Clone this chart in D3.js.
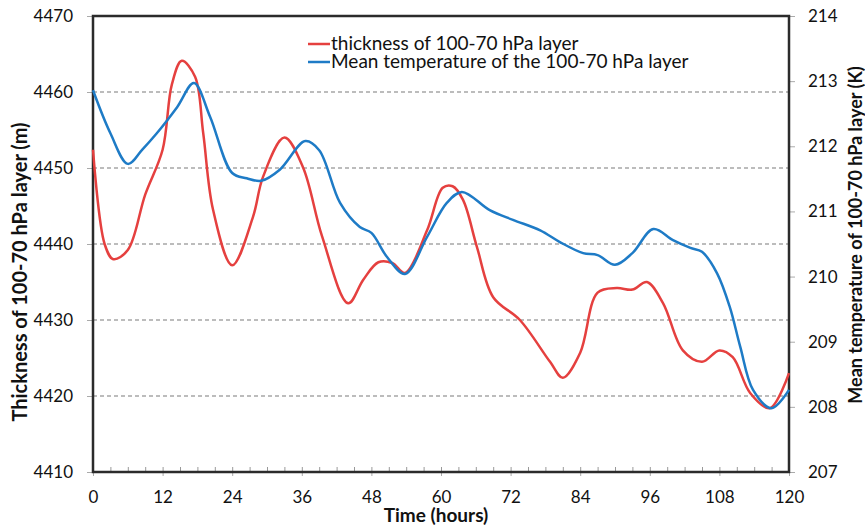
<!DOCTYPE html>
<html>
<head>
<meta charset="utf-8">
<script src="https://cdn.jsdelivr.net/npm/d3@7"></script>
<style>
  body { margin: 0; background: #fff; }
  text { font-family: Lato, "Open Sans", sans-serif; fill: #111; }
  .axis text { font-size: 17px; }
  .axis-title { font-weight: bold; }
  .legend text { font-size: 19px; }
</style>
</head>
<body>
<div id="chart-area"></div>
<script>
// Thickness of the 100-70 hPa layer (m), left axis
let thickHours = [0, 2, 3.5, 6, 9, 12, 13.6, 15.3, 17.6, 19, 20.7, 24, 27.6, 29.3, 33, 36.2, 39.5, 44, 46.6, 49.2,
    51.6, 53.8, 57.6, 60.3, 62, 63.8, 66.2, 69, 73.6, 78.8, 81, 84, 87, 90.3, 93, 95.5, 98.3, 101.7, 105, 108,
    110.3, 113.3, 116.7, 120];
let thickValues = [4452.4, 4440, 4438, 4439.2, 4446.5, 4452.4, 4461, 4464.1, 4462, 4454.6, 4444.5, 4437.2, 4443.6, 4448.8, 4454, 4450.1, 4441, 4432.2, 4435.3, 4437.6,
    4437.5, 4436.2, 4441.8, 4447.4, 4447.6, 4445.8, 4439.6, 4433, 4430, 4424.5, 4422.4, 4425.7, 4433.6, 4434.2, 4434, 4435, 4432.2, 4426, 4424.5, 4426,
    4425.1, 4420.4, 4418.4, 4423];

// Mean temperature of the layer (K), right axis
let tempHours = [0, 3, 6, 8.5, 11, 14.5, 17.4, 20.2, 24, 26.5, 29, 32.2, 36.6, 39, 42.6, 46, 48, 50.7, 53.8, 57.6,
    61, 63.6, 68.4, 72.4, 77.1, 80.5, 84.5, 87, 90, 93, 96.6, 100, 103, 105, 107.6, 109.8, 111.6, 113.8, 117, 120];
let tempValues = [212.86, 212.2, 211.73, 211.95, 212.2, 212.6, 212.97, 212.45, 211.59, 211.51, 211.47, 211.64, 212.08, 211.94, 211.13, 210.76, 210.67, 210.3, 210.04, 210.61,
    211.13, 211.3, 211.02, 210.87, 210.71, 210.53, 210.36, 210.33, 210.18, 210.36, 210.73, 210.56, 210.44, 210.38, 210.05, 209.53, 208.92, 208.26, 207.98, 208.26];

let xTicks = [0, 12, 24, 36, 48, 60, 72, 84, 96, 108, 120];
let leftTicks = [4410, 4420, 4430, 4440, 4450, 4460, 4470];
let rightTicks = [207, 208, 209, 210, 211, 212, 213, 214];
let gridTicks = [4420, 4430, 4440, 4450, 4460];

let seriesNames = ["thickness of 100-70 hPa layer", "Mean temperature of the 100-70 hPa layer"];
let seriesColors = ["#e5403f", "#1e7bc6"];

let margin = {top: 16, right: 76, bottom: 54, left: 93};
let width = 865 - margin.left - margin.right;
let height = 526 - margin.top - margin.bottom;

let svg = d3.select("#chart-area").append("svg")
    .attr("width", 865)
    .attr("height", 526)
    .append("g")
    .attr("transform", "translate(" + margin.left + "," + margin.top + ")");

let xScale = d3.scaleLinear().domain([0, 120]).range([0, width]);
let yLeft = d3.scaleLinear().domain([4410, 4470]).range([height, 0]);
let yRight = d3.scaleLinear().domain([207, 214]).range([height, 0]);

// Dashed grid lines
svg.selectAll(".grid")
    .data(gridTicks)
    .enter().append("line")
    .attr("class", "grid")
    .attr("x1", 0)
    .attr("x2", width)
    .attr("y1", d => yLeft(d))
    .attr("y2", d => yLeft(d))
    .attr("stroke", "#a6a6a6")
    .attr("stroke-width", 1.3)
    .attr("stroke-dasharray", "4,3");

// Axes
svg.append("g")
    .attr("class", "axis")
    .call(d3.axisLeft(yLeft).tickValues(leftTicks).tickSize(6).tickPadding(14).tickFormat(d3.format("d")))
    .call(g => g.select(".domain").remove())
    .call(g => g.selectAll("line").attr("stroke", "#aaa"));

svg.append("g")
    .attr("class", "axis")
    .attr("transform", "translate(" + width + ",0)")
    .call(d3.axisRight(yRight).tickValues(rightTicks).tickSize(6).tickPadding(13).tickFormat(d3.format("d")))
    .call(g => g.select(".domain").remove())
    .call(g => g.selectAll("line").attr("stroke", "#aaa"));

svg.append("g")
    .attr("class", "axis")
    .attr("transform", "translate(0," + height + ")")
    .call(d3.axisBottom(xScale).tickValues(xTicks).tickSize(4).tickPadding(15))
    .call(g => g.select(".domain").remove())
    .call(g => g.selectAll("line").attr("stroke", "#aaa"));

// minor ticks every 3 hours, pointing inward
svg.append("g")
    .attr("class", "axis")
    .attr("transform", "translate(0," + height + ")")
    .call(d3.axisBottom(xScale).tickValues(d3.range(0, 121, 3)).tickSize(-5).tickFormat(""))
    .call(g => g.select(".domain").remove())
    .call(g => g.selectAll("line").attr("stroke", "#999"));

// Plot frame
svg.append("rect")
    .attr("width", width)
    .attr("height", height)
    .attr("fill", "none")
    .attr("stroke", "#2b2b2b")
    .attr("stroke-width", 2.5);

// Lines
let thickData = thickHours.map((t, i) => ({t: t, v: thickValues[i]}));
let tempData = tempHours.map((t, i) => ({t: t, v: tempValues[i]}));

svg.append("path")
    .datum(thickData)
    .attr("fill", "none")
    .attr("stroke", seriesColors[0])
    .attr("stroke-width", 2.5)
    .attr("d", d3.line().x(d => xScale(d.t)).y(d => yLeft(d.v)).curve(d3.curveCatmullRom.alpha(0.5)));

svg.append("path")
    .datum(tempData)
    .attr("fill", "none")
    .attr("stroke", seriesColors[1])
    .attr("stroke-width", 2.5)
    .attr("d", d3.line().x(d => xScale(d.t)).y(d => yRight(d.v)).curve(d3.curveCatmullRom.alpha(0.5)));

// Legend
let legend = svg.append("g")
    .attr("class", "legend")
    .attr("transform", "translate(215,28)");

seriesNames.forEach((name, i) => {
    legend.append("line")
        .attr("x1", 0).attr("x2", 22)
        .attr("y1", i * 18).attr("y2", i * 18)
        .attr("stroke", seriesColors[i])
        .attr("stroke-width", 2.5);
    legend.append("text")
        .attr("x", 23)
        .attr("y", i * 18 + 6)
        .text(name);
});

// Axis titles
svg.append("text")
    .attr("class", "axis-title")
    .attr("x", width / 2 - 5)
    .attr("y", height + 50)
    .attr("text-anchor", "middle")
    .style("font-size", "19px")
    .text("Time (hours)");

svg.append("text")
    .attr("class", "axis-title")
    .attr("transform", "rotate(-90)")
    .attr("x", -256)
    .attr("y", -66)
    .attr("text-anchor", "middle")
    .style("font-size", "20px")
    .text("Thickness of 100-70 hPa layer (m)");

svg.append("text")
    .attr("class", "axis-title")
    .attr("transform", "rotate(-90)")
    .attr("x", -219)
    .attr("y", width + 73)
    .attr("text-anchor", "middle")
    .style("font-size", "18px")
    .text("Mean temperature of 100-70 hPa layer (K)");
</script>
</body>
</html>
